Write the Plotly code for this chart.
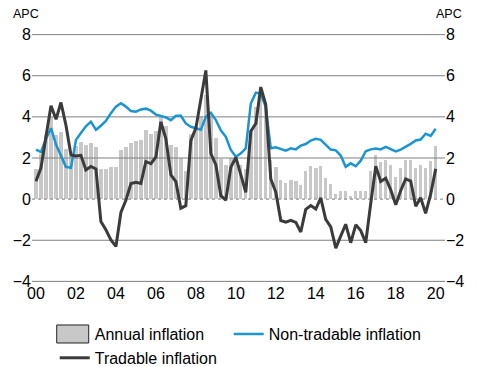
import pandas as pd
import plotly.graph_objects as go

# Quarterly observations, 2000Q1 .. 2020Q1
quarters = pd.date_range("2000-01-01", periods=81, freq="QS")

annual_inflation = [
    1.48, 2.2, 3.1, 4.0,
    3.1, 3.25, 2.45, 2.1,
    2.58, 2.79, 2.63, 2.74,
    2.52, 1.47, 1.47, 1.55,
    1.55, 2.39, 2.52, 2.73,
    2.81, 2.87, 3.35, 3.16,
    3.31, 3.97, 3.55, 2.63,
    2.52, 1.98, 1.37, 3.16,
    3.45, 4.0, 5.05, 4.1,
    2.95, 1.94, 1.66, 1.98,
    1.9, 1.66, 1.45, 3.3,
    4.48, 5.2, 4.65, 1.9,
    1.55, 0.94, 0.8, 0.94,
    0.9, 0.7, 1.38, 1.62,
    1.5, 1.62, 1.04, 0.74,
    0.26, 0.41, 0.41, 0.13,
    0.41, 0.41, 0.41, 1.35,
    2.16, 1.79, 1.92, 1.64,
    1.1, 1.5, 1.92, 1.92,
    1.5, 1.67, 1.5, 1.87,
    2.57,
]

tradable_inflation = [
    0.87, 1.52, 3.03, 4.54,
    3.88, 4.7, 3.6, 2.15,
    2.1, 2.13, 1.42, 1.59,
    1.47, -1.09, -1.49, -1.98,
    -2.3, -0.65, -0.06, 0.76,
    0.82, 0.76, 1.83, 1.72,
    2.05, 3.76, 2.95, 1.18,
    0.85, -0.44, -0.32, 2.86,
    3.45, 4.8, 6.26, 2.22,
    1.66, 0.17, -0.05, 1.55,
    2.03, 1.19, 0.33, 3.3,
    3.68, 5.45, 4.6, 0.98,
    0.34, -1.04, -1.12, -1.03,
    -1.13, -1.6, -0.5, -0.31,
    -0.48, 0.06, -0.98, -1.35,
    -2.38, -1.8, -1.22, -2.12,
    -1.25, -1.53, -2.12, -0.2,
    1.6, 0.86, 1.02, 0.45,
    -0.27, 0.41, 0.98, 0.88,
    -0.35, 0.07, -0.69, 0.24,
    1.47,
]

nontradable_inflation = [
    2.41, 2.29, 2.92, 3.45,
    2.65, 2.1, 1.57, 1.52,
    2.88, 3.22, 3.54, 3.77,
    3.37, 3.57, 3.8, 4.18,
    4.5, 4.66, 4.5, 4.28,
    4.25, 4.36, 4.4, 4.3,
    4.11, 4.05, 3.97, 3.84,
    4.05, 4.05, 3.68, 3.52,
    3.46, 3.38, 4.0, 4.2,
    3.84, 3.35, 3.03, 2.39,
    2.06, 2.23, 2.47, 4.65,
    5.18, 5.13, 4.48, 2.47,
    2.52, 2.42, 2.36, 2.47,
    2.42, 2.6, 2.68, 2.85,
    2.93, 2.88, 2.62, 2.41,
    2.37, 2.12, 1.57, 1.74,
    1.6, 1.87, 2.33, 2.42,
    2.46, 2.42, 2.54, 2.41,
    2.32, 2.41, 2.54, 2.69,
    2.85, 2.9, 3.18, 3.07,
    3.42,
]

y_ticks = [-4, -2, 0, 2, 4, 6, 8]
x_tick_dates = pd.date_range("2000-01-01", "2020-01-01", freq="24MS")
x_tick_labels = ["00", "02", "04", "06", "08", "10", "12", "14", "16", "18", "20"]

FONT = "Liberation Sans, Arial, sans-serif"
BAR_COLOR = "rgba(128,128,128,0.43)"
BLUE = "#1b95d2"
DARK = "#3b3b3b"
GRID = "#7f7f7f"

fig = go.Figure()

fig.add_trace(go.Bar(
    x=quarters, y=annual_inflation, name="Annual inflation",
    marker=dict(color=BAR_COLOR, line=dict(width=0)),
    width=62 * 86400000, showlegend=False,
))
# legend entry for bars (outlined box)
fig.add_trace(go.Bar(
    x=[None], y=[None], name="Annual inflation",
    marker=dict(color="#c8c8c8", line=dict(color="#222222", width=1)),
    legendrank=1,
))
fig.add_trace(go.Scatter(
    x=quarters, y=nontradable_inflation, name="Non-tradable inflation",
    mode="lines", line=dict(color=BLUE, width=2.5), legendrank=2,
))
fig.add_trace(go.Scatter(
    x=quarters, y=tradable_inflation, name="Tradable inflation",
    mode="lines", line=dict(color=DARK, width=3), legendrank=3,
))
# right-hand axis carrier (invisible)
fig.add_trace(go.Scatter(
    x=[quarters[0]], y=[None], yaxis="y2", showlegend=False, hoverinfo="skip",
))

shapes = []
for v in y_ticks:
    shapes.append(dict(
        type="line", xref="paper", x0=0, x1=1, yref="y", y0=v, y1=v,
        line=dict(color=GRID, width=1, dash="dot" if v == 0 else "solid"),
        layer="below",
    ))

yr = [-4.03, 8.03]
fig.update_layout(
    template="none",
    width=477, height=367,
    margin=dict(l=32, r=32, t=34, b=85, autoexpand=False),
    paper_bgcolor="white", plot_bgcolor="white",
    font=dict(family=FONT, size=16, color="black"),
    bargap=0,
    shapes=shapes,
    xaxis=dict(
        range=["1999-10-20", "2020-06-19"],
        tickvals=x_tick_dates, ticktext=x_tick_labels,
        showgrid=False, zeroline=False, ticks="", showline=False,
        tickfont=dict(size=16), automargin=False,
    ),
    yaxis=dict(
        range=yr, tickvals=y_ticks, showgrid=False, zeroline=False,
        ticks="", tickfont=dict(size=16), automargin=False, showline=False,
    ),
    yaxis2=dict(
        range=yr, tickvals=y_ticks, overlaying="y", side="right",
        showgrid=False, zeroline=False, ticks="", tickfont=dict(size=16),
        automargin=False, showline=False,
    ),
    legend=dict(
        orientation="h", xref="container", yref="container",
        x=0.1147, y=0.136, xanchor="left", yanchor="top",
        entrywidth=129, entrywidthmode="pixels",
        font=dict(size=16), bgcolor="rgba(0,0,0,0)", tracegroupgap=0,
        borderwidth=0,
    ),
    annotations=[
        dict(text="APC", xref="paper", yref="paper", x=0, y=1,
             xshift=-6, yshift=20, showarrow=False, font=dict(size=12.5),
             xanchor="center", yanchor="middle"),
        dict(text="APC", xref="paper", yref="paper", x=1, y=1,
             xshift=4, yshift=20, showarrow=False, font=dict(size=12.5),
             xanchor="center", yanchor="middle"),
    ],
)

css = (
    ".legend .scrollbox{clip-path:none !important;}"
    ".legend path[d='M6,6H-6V-6H6Z']{d:path('M14,9H-18V-9H14Z');}"
)
post = (
    "document.body.style.margin='0';document.body.style.padding='0';"
    "var st=document.createElement('style');st.textContent=\"" + css + "\";"
    "document.head.appendChild(st);"
)

fig.write_html(
    "out.html",
    config={"displayModeBar": False},
    post_script=post,
)
